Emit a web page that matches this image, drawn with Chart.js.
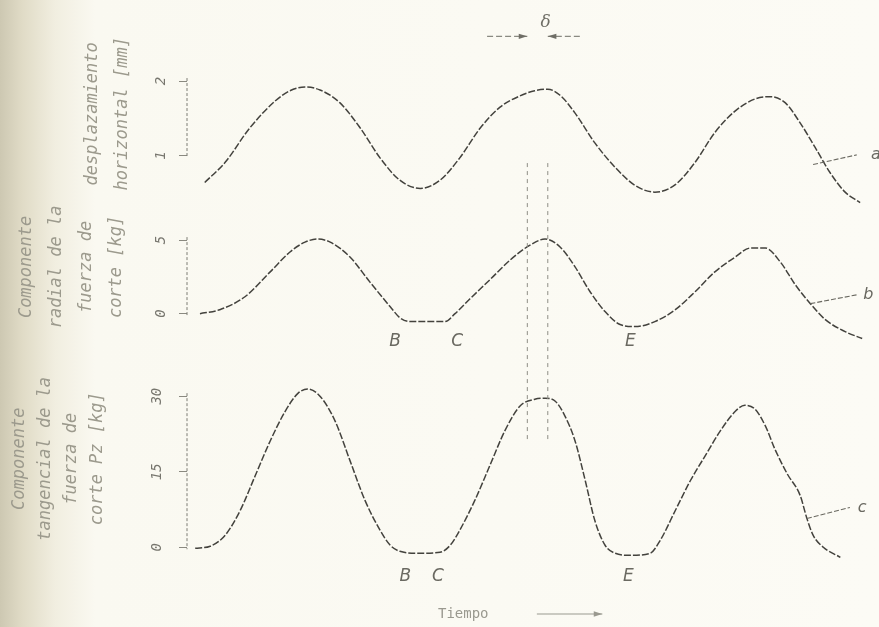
<!DOCTYPE html>
<html lang="es">
  <head>
    <meta charset="UTF-8" />
    <title>Fuerza de corte y desplazamiento</title>
    <script src="https://cdn.jsdelivr.net/npm/chart.js"></script>
    <style>
      html, body {
        margin: 0;
        padding: 0;
      }
      body {
        width: 879px;
        height: 627px;
        background: linear-gradient(to right, #cdc8b2 0px, #e0dbc6 22px, #f1eee0 55px, #faf9f1 95px, #fcfbf5 100%);
      }
      canvas {
        display: block;
      }
    </style>
  </head>
  <body>
    <canvas id="chart" width="879" height="627"></canvas>
    <script>
      // tiempo (unidades arbitrarias) y valores
      const timeA = [2.6, 5.6, 9.2, 12.9, 15.1, 17.3, 19.5, 22.4, 25.4, 28.3, 31.2, 34.2, 37.1, 40.0, 43.0, 45.9, 48.8, 51.0, 52.9, 54.7, 56.9, 59.8, 62.8, 65.7, 68.6, 71.6, 74.5, 77.4, 80.4, 83.3, 85.5, 87.7, 89.9, 92.1, 94.3, 96.5, 98.7]
      const despA = [0.64, 0.91, 1.37, 1.73, 1.87, 1.92, 1.88, 1.71, 1.37, 0.97, 0.67, 0.56, 0.67, 0.97, 1.37, 1.65, 1.8, 1.87, 1.89, 1.81, 1.57, 1.17, 0.84, 0.6, 0.51, 0.61, 0.91, 1.31, 1.6, 1.76, 1.79, 1.71, 1.44, 1.11, 0.77, 0.51, 0.37]

      const timeB = [1.9, 4.8, 8.5, 12.2, 15.1, 17.3, 19.2, 21.0, 23.9, 26.8, 29.8, 31.2, 32.7, 34.9, 37.8, 39.3, 41.5, 44.4, 47.4, 50.3, 52.5, 54.7, 56.9, 59.1, 61.3, 63.5, 65.7, 68.6, 71.6, 74.5, 77.4, 80.4, 82.6, 84.8, 87.0, 89.2, 91.4, 93.6, 96.5, 99.0]
      const radialB = [0, 0.27, 1.15, 2.84, 4.19, 4.86, 5.07, 4.86, 3.85, 2.16, 0.47, -0.27, -0.54, -0.54, -0.54, 0, 1.01, 2.3, 3.65, 4.66, 5.07, 4.53, 3.18, 1.49, 0.14, -0.74, -0.88, -0.54, 0.27, 1.49, 2.84, 3.85, 4.46, 4.46, 3.51, 1.96, 0.68, -0.41, -1.22, -1.69]

      const timeC = [1.2, 3.4, 5.6, 7.8, 10.0, 12.2, 14.4, 16.3, 17.7, 19.5, 21.7, 23.9, 26.1, 28.3, 29.8, 31.2, 34.2, 37.1, 38.6, 40.0, 42.2, 44.4, 46.6, 48.8, 51.0, 52.5, 54.0, 55.4, 56.9, 58.4, 59.8, 61.3, 62.8, 65.0, 67.9, 69.4, 71.6, 73.8, 76.0, 78.2, 80.4, 81.8, 83.3, 84.8, 86.2, 88.0, 89.9, 90.9, 91.8, 93.3, 95.8]
      const tangC = [-0.2, 0.2, 2.4, 7.3, 14.2, 21.1, 27.0, 30.6, 31.4, 30.0, 25.1, 17.2, 9.3, 3.4, 0.4, -0.8, -1.2, -1.0, 0.4, 3.4, 9.3, 16.2, 23.1, 28.0, 29.4, 29.6, 29.0, 26.1, 21.1, 13.2, 5.3, 0.4, -1.2, -1.6, -1.2, 1.4, 7.3, 13.2, 18.2, 23.1, 27.0, 28.2, 27.4, 24.1, 19.5, 14.6, 10.3, 5.7, 2.4, 0, -2.0]

      // marcas de los ejes
      const ticksA = [1, 2]
      const ticksB = [0, 5]
      const ticksC = [0, 15, 30]

      // anotaciones: instantes B, C, E y lineas de delta
      const pointsB = [['B', 30.5], ['C', 39.6], ['E', 65.0]]
      const pointsC = [['B', 32.0], ['C', 36.8], ['E', 64.7]]
      const deltaTimes = [49.9, 52.9]

      const ink = '#43423d'
      const faint = '#9c9a8d'
      const titleFont = { family: '"DejaVu Sans Mono", monospace', style: 'italic', size: 17 }
      const tickFont = { family: '"DejaVu Sans Mono", monospace', style: 'italic', size: 14 }

      const toPoints = (xs, ys) => xs.map((t, i) => ({ x: t, y: ys[i] }))

      const curve = (data, axis) => ({
        data: data,
        yAxisID: axis,
        borderColor: ink,
        borderWidth: 1.5,
        borderDash: [7, 2],
        pointRadius: 0,
        tension: 0.4,
        cubicInterpolationMode: 'monotone',
        fill: false,
        clip: false,
      })

      const yAxis = (ticks, min, max, weight, title, pad, lh) => ({
        type: 'linear',
        position: 'left',
        stack: 'paneles',
        stackWeight: weight,
        min: min,
        max: max,
        afterBuildTicks: (scale) => {
          scale.ticks = ticks.map((v) => ({ value: v }))
        },
        afterFit: (scale) => {
          scale.width = 187
        },
        border: { display: false },
        grid: {
          drawOnChartArea: false,
          drawTicks: true,
          tickLength: 8,
          color: '#8a8980',
        },
        ticks: {
          minRotation: 90,
          maxRotation: 90,
          crossAlign: 'center',
          padding: 13,
          color: '#77766e',
          font: tickFont,
        },
        title: {
          display: true,
          text: title,
          color: faint,
          font: Object.assign({}, titleFont, { lineHeight: lh }),
          padding: { top: pad, bottom: 0 },
        },
      })

      function arrow(ctx, x1, y1, x2, y2) {
        const ang = Math.atan2(y2 - y1, x2 - x1)
        ctx.beginPath()
        ctx.moveTo(x1, y1)
        ctx.lineTo(x2, y2)
        ctx.stroke()
        ctx.beginPath()
        ctx.moveTo(x2, y2)
        ctx.lineTo(x2 - 9 * Math.cos(ang - 0.3), y2 - 9 * Math.sin(ang - 0.3))
        ctx.lineTo(x2 - 9 * Math.cos(ang + 0.3), y2 - 9 * Math.sin(ang + 0.3))
        ctx.closePath()
        ctx.fill()
      }

      const annotations = {
        id: 'annotations',
        afterDraw(chart) {
          const { ctx, chartArea } = chart
          const { x, ya, yb, yc } = chart.scales
          ctx.save()

          // ejes verticales cortos entre las marcas extremas
          ctx.strokeStyle = '#7d7c74'
          ctx.lineWidth = 1
          ctx.setLineDash([3, 2])
          ;[[ya, ticksA], [yb, ticksB], [yc, ticksC]].forEach(([s, t]) => {
            ctx.beginPath()
            ctx.moveTo(s.right, s.getPixelForValue(Math.max(...t)) - 3)
            ctx.lineTo(s.right, s.getPixelForValue(Math.min(...t)) + 2)
            ctx.stroke()
          })

          // lineas verticales de delta
          ctx.strokeStyle = '#8f8e86'
          ctx.setLineDash([4, 4])
          deltaTimes.forEach((t) => {
            ctx.beginPath()
            ctx.moveTo(x.getPixelForValue(t), ya.getPixelForValue(0.9))
            ctx.lineTo(x.getPixelForValue(t), yc.getPixelForValue(21))
            ctx.stroke()
          })

          // cota delta arriba
          ctx.setLineDash([6, 3])
          ctx.strokeStyle = '#6f6e66'
          ctx.fillStyle = '#6f6e66'
          const yd = ya.getPixelForValue(2.6)
          arrow(ctx, x.getPixelForValue(44), yd, x.getPixelForValue(deltaTimes[0]), yd)
          arrow(ctx, x.getPixelForValue(57.6), yd, x.getPixelForValue(deltaTimes[1]), yd)
          ctx.setLineDash([])
          ctx.font = 'italic 17px "DejaVu Serif", serif'
          ctx.textAlign = 'center'
          ctx.textBaseline = 'middle'
          ctx.fillText('δ', x.getPixelForValue(52.6), ya.getPixelForValue(2.78))

          // letras B, C, E
          ctx.fillStyle = '#6a6961'
          ctx.font = 'italic 17px "DejaVu Sans", sans-serif'
          pointsB.forEach(([l, t]) => ctx.fillText(l, x.getPixelForValue(t), yb.getPixelForValue(-1.9)))
          pointsC.forEach(([l, t]) => ctx.fillText(l, x.getPixelForValue(t), yc.getPixelForValue(-5.9)))

          // rotulos a, b, c
          ctx.strokeStyle = '#6a6961'
          ctx.lineWidth = 1.1
          ctx.setLineDash([5, 2])
          const leader = (s, t1, v1, t2, v2, t3, txt) => {
            ctx.beginPath()
            ctx.moveTo(x.getPixelForValue(t1), s.getPixelForValue(v1))
            ctx.lineTo(x.getPixelForValue(t2), s.getPixelForValue(v2))
            ctx.stroke()
            ctx.fillText(txt, x.getPixelForValue(t3), s.getPixelForValue(v2))
          }
          ctx.font = 'italic 16px "DejaVu Sans", sans-serif'
          leader(ya, 91.8, 0.88, 98.2, 1.01, 101, 'a')
          leader(yb, 91.4, 0.68, 98.2, 1.28, 99.9, 'b')
          leader(yc, 90.9, 5.7, 97.2, 7.9, 99.0, 'c')

          // eje del tiempo
          ctx.setLineDash([])
          ctx.fillStyle = '#9a998f'
          ctx.strokeStyle = '#9a998f'
          ctx.font = '14px "DejaVu Sans Mono", monospace'
          ctx.textAlign = 'left'
          const yt = chartArea.bottom + 24
          ctx.fillText('Tiempo', x.getPixelForValue(36.8), yt)
          arrow(ctx, x.getPixelForValue(51.3), yt, x.getPixelForValue(60.9), yt)

          ctx.restore()
        },
      }

      new Chart(document.getElementById('chart'), {
        type: 'line',
        data: {
          datasets: [
            curve(toPoints(timeA, despA), 'ya'),
            curve(toPoints(timeB, radialB), 'yb'),
            curve(toPoints(timeC, tangC), 'yc'),
          ],
        },
        options: {
          responsive: false,
          animation: false,
          layout: { padding: { left: 0, right: 10, top: 18, bottom: 37 } },
          plugins: {
            legend: { display: false },
            tooltip: { enabled: false },
          },
          scales: {
            x: { type: 'linear', min: 0, max: 100, display: false },
            yc: yAxis(ticksC, -8.49, 43.62, 264,
              ['Componente', 'tangencial de la', 'fuerza de', 'corte Pz [kg]'], 7, '26px'),
            yb: yAxis(ticksB, -0.946, 7.297, 122,
              ['Componente', 'radial de la', 'fuerza de', 'corte [kg]'], 12, '30px'),
            ya: yAxis(ticksA, 0.32, 2.8, 186,
              ['desplazamiento', 'horizontal [mm]'], 78, '30px'),
          },
        },
        plugins: [annotations],
      })
    </script>
  </body>
</html>
